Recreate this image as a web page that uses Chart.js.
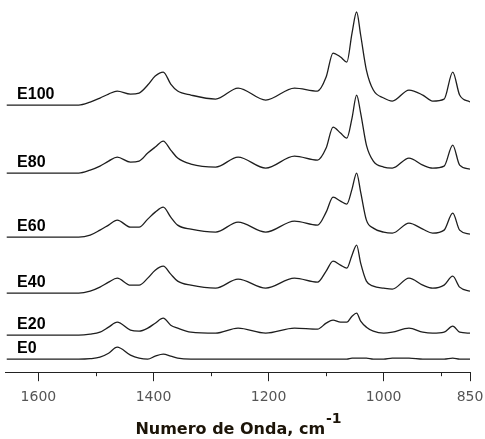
<!DOCTYPE html>
<html>
<head>
<meta charset="utf-8">
<script src="https://cdn.jsdelivr.net/npm/chart.js@4"></script>
<style>
  html, body { margin: 0; padding: 0; background: #fff; }
  #wrap { width: 485px; height: 439px; }
</style>
</head>
<body>
<div id="wrap"><canvas id="spectra"></canvas></div>
<script>
// Wavenumber grid (cm-1), shared by all spectra
const waveNumbers = [1655, 1530, 1510, 1493, 1478, 1463, 1440, 1425, 1410, 1397, 1383, 1370, 1358, 1335, 1292, 1253, 1205, 1155, 1115, 1100, 1088, 1075, 1064, 1055, 1047, 1040, 1030, 1018, 1000, 985, 956, 932, 915, 895, 880, 868, 850];

// Intensities above each spectrum's own baseline
const e100 = [0, 0, 3, 7, 11, 14, 11, 12, 20, 29, 33, 21, 14, 10, 6, 17, 5, 17, 14, 28, 52, 48, 43, 72, 93, 70, 35, 15, 7, 4, 15, 10, 4, 6, 33, 10, 3];
const e80  = [0, 0, 3, 7, 12, 16, 11, 12, 20, 26, 32, 23, 15, 9, 6, 16, 5, 17, 13, 25, 46, 40, 35, 55, 78, 60, 28, 12, 6, 5, 15, 8, 5, 7, 28, 8, 4];
const e60  = [0, 0, 2, 7, 12, 17, 10, 10, 18, 25, 30, 20, 12, 8, 5, 15, 5, 16, 12, 25, 40, 36, 33, 48, 64, 45, 17, 9, 5, 4, 14, 8, 4, 7, 24, 7, 3];
const e40  = [0, 0, 2, 6, 11, 15, 8, 8, 15, 23, 27, 19, 12, 8, 5, 14, 5, 15, 11, 22, 32, 28, 25, 38, 48, 30, 12, 7, 5, 4, 15, 8, 5, 8, 17, 6, 2];
const e20  = [0, 0, 1, 3, 8, 13, 5, 4, 7, 12, 17, 10, 7, 3, 2, 7, 2, 7, 6, 12, 15, 13, 13, 19, 22, 14, 8, 4, 2, 3, 7, 3, 2, 3, 9, 3, 2];
const e0   = [0, 0, 0.5, 2, 6, 12, 4, 1, 0, 3, 5, 3, 1, 0, 0, 0, 0, 0, 0, 0, 0, 0, 0, 1, 1, 1, 1, 0, 0, 1, 1, 0, 0, 0, 1, 0, 0];

const seriesNames = ['E100', 'E80', 'E60', 'E40', 'E20', 'E0'];
const seriesValues = [e100, e80, e60, e40, e20, e0];
const baselineOffsets = [267, 199, 135, 79, 37, 13];

// Axis ticks
const majorTicks = [1600, 1400, 1200, 1000, 850];
const minorTicks = [1500, 1300, 1100, 900];
const xStart = 1658, xEnd = 850;
const labelWaveNumber = 1637;

const datasets = seriesNames.map((name, i) => ({
    label: name,
    data: waveNumbers.map((w, j) => ({ x: w, y: baselineOffsets[i] + seriesValues[i][j] })),
    borderColor: '#1e1e1e',
    borderWidth: 1.3,
    pointRadius: 0,
    fill: false,
    cubicInterpolationMode: 'monotone'
}));

// Draws series names, minor ticks and the axis title
const decorations = {
    id: 'decorations',
    afterDraw(chart) {
        const ctx = chart.ctx;
        const x = chart.scales.x, y = chart.scales.y;
        ctx.save();

        // minor ticks
        ctx.strokeStyle = '#222';
        ctx.lineWidth = 1;
        minorTicks.forEach(v => {
            const px = Math.round(x.getPixelForValue(v)) + 0.5;
            ctx.beginPath();
            ctx.moveTo(px, chart.chartArea.bottom);
            ctx.lineTo(px, chart.chartArea.bottom + 4);
            ctx.stroke();
        });

        // series names
        ctx.fillStyle = '#000';
        ctx.font = 'bold 16px "Liberation Sans", Arial, sans-serif';
        ctx.textBaseline = 'alphabetic';
        ctx.textAlign = 'left';
        seriesNames.forEach((name, i) => {
            ctx.fillText(name, x.getPixelForValue(labelWaveNumber), y.getPixelForValue(baselineOffsets[i] + 6));
        });

        // axis title with superscript
        const main = 'Numero de Onda, cm';
        const sup = '-1';
        ctx.fillStyle = '#1c1408';
        ctx.font = 'bold 16px "DejaVu Sans", Verdana, sans-serif';
        const w1 = ctx.measureText(main).width;
        ctx.font = 'bold 14px "DejaVu Sans", Verdana, sans-serif';
        const w2 = ctx.measureText(sup).width;
        const left = 238 - (w1 + w2) / 2;
        ctx.font = 'bold 16px "DejaVu Sans", Verdana, sans-serif';
        ctx.fillText(main, left, 434);
        ctx.font = 'bold 14px "DejaVu Sans", Verdana, sans-serif';
        ctx.fillText(sup, left + w1 + 1, 423);
        ctx.restore();
    }
};

new Chart(document.getElementById('spectra'), {
    type: 'line',
    data: { datasets: datasets },
    options: {
        responsive: true,
        maintainAspectRatio: false,
        animation: false,
        layout: { padding: { left: 5, right: 15, top: 5, bottom: 25 } },
        plugins: {
            legend: { display: false },
            tooltip: { enabled: false }
        },
        scales: {
            x: {
                type: 'linear',
                min: xEnd,
                max: xStart,
                reverse: true,
                afterBuildTicks: scale => {
                    scale.ticks = majorTicks.map(v => ({ value: v }));
                },
                afterFit: scale => {
                    scale.paddingLeft = 0;
                    scale.paddingRight = 0;
                },
                grid: {
                    drawOnChartArea: false,
                    drawTicks: true,
                    tickLength: 9,
                    color: '#222'
                },
                border: { display: true, color: '#222', width: 1 },
                ticks: {
                    color: '#555',
                    padding: 8,
                    maxRotation: 0,
                    autoSkip: false,
                    font: { family: '"DejaVu Sans", Verdana, sans-serif', size: 14 },
                    callback: v => String(v)
                }
            },
            y: {
                display: false,
                min: 0,
                max: 367
            }
        }
    },
    plugins: [decorations]
});
</script>
</body>
</html>
